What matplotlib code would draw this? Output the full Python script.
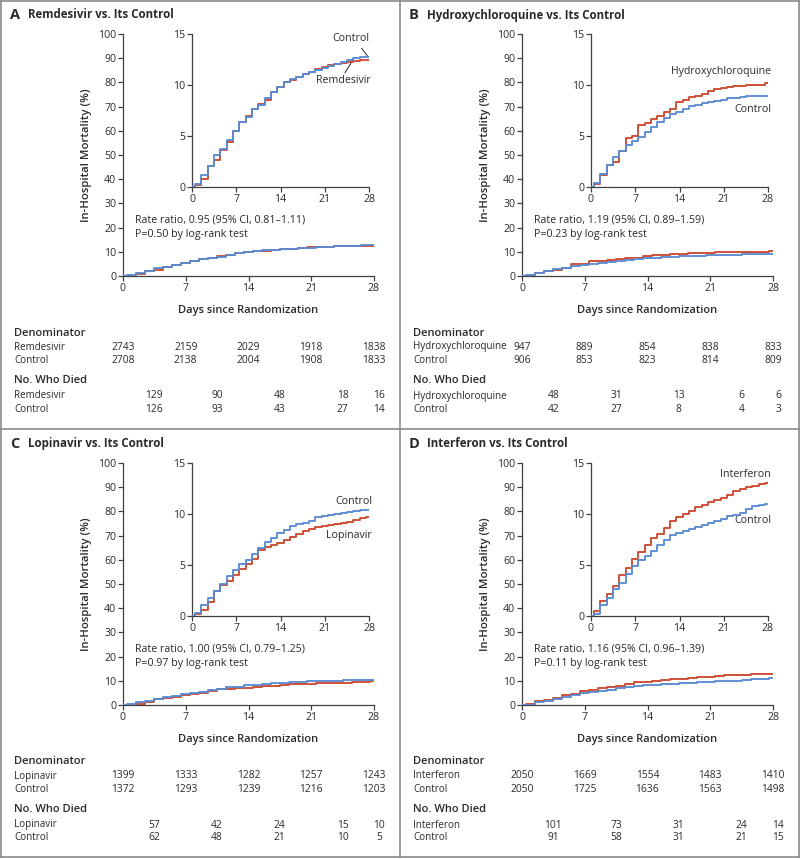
import matplotlib
matplotlib.use('Agg')
import matplotlib.pyplot as plt
import matplotlib.transforms as mtransforms
from matplotlib.lines import Line2D

plt.rcParams['font.family'] = ['Open Sans', 'DejaVu Sans']

RED = '#cc4a30'
BLUE = '#5a8bd2'
AXIS = '#404040'
TEXT = '#2a2a2a'

# daily step values (percent), one per day, step at day k + 0.5
remdesivir_pct = [0.2, 0.8, 2.1, 2.6, 3.6, 4.4, 5.5, 6.4, 7.0, 7.6, 8.1, 8.5, 9.3, 9.8,
                  10.3, 10.5, 10.8, 11.1, 11.3, 11.6, 11.8, 12.0, 12.1, 12.2, 12.3, 12.4, 12.5, 12.5]
remdesivir_ctrl_pct = [0.3, 1.2, 2.1, 3.1, 3.7, 4.6, 5.5, 6.4, 6.9, 7.6, 8.0, 8.7, 9.3, 9.8,
                       10.3, 10.6, 10.8, 11.1, 11.3, 11.5, 11.7, 11.9, 12.1, 12.3, 12.5, 12.6, 12.7, 12.75]

hcq_pct = [0.3, 1.2, 2.2, 2.5, 3.5, 4.8, 5.0, 6.1, 6.3, 6.7, 7.0, 7.4, 7.6, 8.3,
           8.5, 8.8, 8.9, 9.1, 9.4, 9.6, 9.7, 9.8, 9.9, 9.9, 10.0, 10.0, 10.0, 10.2]
hcq_ctrl_pct = [0.35, 1.3, 2.2, 2.9, 3.5, 4.1, 4.5, 4.95, 5.4, 5.9, 6.4, 6.8, 7.2, 7.4,
                7.6, 7.9, 8.0, 8.2, 8.3, 8.4, 8.5, 8.7, 8.75, 8.85, 8.9, 8.9, 8.9, 8.9]

lopinavir_pct = [0.2, 0.6, 1.4, 2.5, 3.0, 3.4, 4.0, 4.6, 5.1, 5.6, 6.5, 6.8, 7.0, 7.2,
                 7.5, 7.7, 8.0, 8.3, 8.5, 8.7, 8.8, 8.9, 9.0, 9.1, 9.2, 9.4, 9.6, 9.75]
lopinavir_ctrl_pct = [0.3, 1.1, 1.8, 2.5, 3.1, 3.9, 4.5, 5.1, 5.5, 6.1, 6.7, 7.3, 7.6, 8.1,
                      8.4, 8.8, 9.0, 9.1, 9.3, 9.7, 9.8, 9.9, 10.0, 10.1, 10.2, 10.3, 10.35, 10.4]

interferon_pct = [0.5, 1.5, 2.2, 2.9, 4.0, 4.7, 5.6, 6.3, 7.0, 7.6, 8.0, 8.6, 9.3, 9.7,
                  10.0, 10.3, 10.7, 10.9, 11.2, 11.4, 11.6, 11.9, 12.3, 12.5, 12.6, 12.7, 12.9, 13.0]
interferon_ctrl_pct = [0.2, 1.1, 1.8, 2.6, 3.2, 4.1, 4.9, 5.5, 5.9, 6.4, 7.0, 7.5, 7.9, 8.1,
                       8.3, 8.5, 8.7, 8.9, 9.1, 9.3, 9.5, 9.8, 9.9, 10.1, 10.5, 10.8, 10.9, 11.0]

day_ticks = [0, 7, 14, 21, 28]
died_days = [3.5, 10.5, 17.5, 24.5, 28.6]

titles = ['Remdesivir vs. Its Control', 'Hydroxychloroquine vs. Its Control',
          'Lopinavir vs. Its Control', 'Interferon vs. Its Control']
drugs = ['Remdesivir', 'Hydroxychloroquine', 'Lopinavir', 'Interferon']
letters = ['A', 'B', 'C', 'D']
rate_texts = ['Rate ratio, 0.95 (95% CI, 0.81\u20131.11)', 'Rate ratio, 1.19 (95% CI, 0.89\u20131.59)',
              'Rate ratio, 1.00 (95% CI, 0.79\u20131.25)', 'Rate ratio, 1.16 (95% CI, 0.96\u20131.39)']
p_texts = ['P=0.50 by log-rank test', 'P=0.23 by log-rank test',
           'P=0.97 by log-rank test', 'P=0.11 by log-rank test']

denom_drug = [[2743, 2159, 2029, 1918, 1838], [947, 889, 854, 838, 833],
              [1399, 1333, 1282, 1257, 1243], [2050, 1669, 1554, 1483, 1410]]
denom_ctrl = [[2708, 2138, 2004, 1908, 1833], [906, 853, 823, 814, 809],
              [1372, 1293, 1239, 1216, 1203], [2050, 1725, 1636, 1563, 1498]]
died_drug = [[129, 90, 48, 18, 16], [48, 31, 13, 6, 6],
             [57, 42, 24, 15, 10], [101, 73, 31, 24, 14]]
died_ctrl = [[126, 93, 43, 27, 14], [42, 27, 8, 4, 3],
             [62, 48, 21, 10, 5], [91, 58, 31, 21, 15]]

curves_drug = [remdesivir_pct, hcq_pct, lopinavir_pct, interferon_pct]
curves_ctrl = [remdesivir_ctrl_pct, hcq_ctrl_pct, lopinavir_ctrl_pct, interferon_ctrl_pct]

W, H = 800, 859
fig = plt.figure(figsize=(W / 100, H / 100), dpi=100)

TICK_FS = 7.6
NOTE_FS = 7.7
TABLE_FS = 7.4
ROW_FS = 7.15


def px_axes(left, top, right, bottom):
    return fig.add_axes([left / W, 1 - bottom / H, (right - left) / W, (bottom - top) / H])


def style_axes(ax):
    for s in ['top', 'right']:
        ax.spines[s].set_visible(False)
    for s in ['left', 'bottom']:
        ax.spines[s].set_color(AXIS)
        ax.spines[s].set_linewidth(0.9)
    ax.tick_params(direction='out', length=3.5, width=0.9, color=AXIS,
                   labelsize=TICK_FS, labelcolor=TEXT, pad=1.5)
    ax.patch.set_alpha(0)


def step_xy(vals):
    xs = [0] + [k + 0.5 for k in range(len(vals))] + [28]
    ys = [0] + list(vals) + [vals[-1]]
    return xs, ys


def draw_curves(ax, i):
    x, y = step_xy(curves_drug[i])
    ax.step(x, y, where='post', color=RED, lw=1.35, zorder=3)
    x, y = step_xy(curves_ctrl[i])
    ax.step(x, y, where='post', color=BLUE, lw=1.35, zorder=4)


for i in range(4):
    dx = 399 * (i % 2)
    dy = 429 * (i // 2)

    # main plot 0-100
    ax = px_axes(123 + dx, 34 + dy, 374 + dx, 276 + dy)
    style_axes(ax)
    draw_curves(ax, i)
    ax.set_xlim(0, 28)
    ax.set_ylim(0, 100)
    ax.set_xticks(day_ticks)
    ax.set_yticks(range(0, 101, 10))
    ax.set_ylabel('In-Hospital Mortality (%)', fontsize=8.2, fontweight='semibold',
                  color=TEXT, labelpad=4)
    ax.set_xlabel('Days since Randomization', fontsize=8, fontweight='semibold',
                  color=TEXT, labelpad=8)
    ax.text(1.3, 23.0, rate_texts[i], fontsize=NOTE_FS, color=TEXT, va='center')
    ax.text(1.3, 17.3, p_texts[i], fontsize=NOTE_FS, color=TEXT, va='center')

    # inset 0-15
    ins = px_axes(192 + dx, 34 + dy, 369 + dx, 187 + dy)
    style_axes(ins)
    draw_curves(ins, i)
    ins.set_xlim(0, 28)
    ins.set_ylim(0, 15)
    ins.set_xticks(day_ticks)
    ins.set_yticks([0, 5, 10, 15])

    if i == 0:
        ins.text(25.2, 14.6, 'Control', fontsize=7.7, color=TEXT, ha='center', va='center')
        ins.text(28.3, 10.4, 'Remdesivir', fontsize=7.7, color=TEXT, ha='right', va='center')
        ins.plot([26.85, 27.8], [13.6, 12.8], color=TEXT, lw=0.7, clip_on=False)
        ins.plot([24.2, 25.5], [11.2, 12.5], color=TEXT, lw=0.7, clip_on=False)
    elif i == 1:
        ins.text(28.5, 11.3, 'Hydroxychloroquine', fontsize=7.6, color=TEXT, ha='right', va='center')
        ins.text(28.5, 7.6, 'Control', fontsize=7.7, color=TEXT, ha='right', va='center')
    elif i == 2:
        ins.text(28.5, 11.2, 'Control', fontsize=7.7, color=TEXT, ha='right', va='center')
        ins.text(28.5, 7.9, 'Lopinavir', fontsize=7.7, color=TEXT, ha='right', va='center')
    else:
        ins.text(28.5, 13.85, 'Interferon', fontsize=7.7, color=TEXT, ha='right', va='center')
        ins.text(28.5, 9.4, 'Control', fontsize=7.7, color=TEXT, ha='right', va='center')

    # panel title
    fig.text((10 + dx) / W, 1 - (15 + dy) / H, letters[i], fontsize=10.5, fontweight='bold',
             color=TEXT, va='center')
    fig.text((28 + dx) / W, 1 - (15 + dy) / H, titles[i], fontsize=8.3, fontweight='bold',
             color=TEXT, va='center')

    # numbers table
    trans = mtransforms.blended_transform_factory(ax.transData, fig.transFigure)
    lx = (14 + dx) / W

    def row_y(py):
        return 1 - (py + dy) / H

    fig.text(lx, row_y(333), 'Denominator', fontsize=8, fontweight='semibold', color=TEXT, va='center')
    fig.text(lx, row_y(347), drugs[i], fontsize=ROW_FS, color=TEXT, va='center')
    fig.text(lx, row_y(360), 'Control', fontsize=ROW_FS, color=TEXT, va='center')
    fig.text(lx, row_y(381), 'No. Who Died', fontsize=8, fontweight='semibold', color=TEXT, va='center')
    fig.text(lx, row_y(396), drugs[i], fontsize=ROW_FS, color=TEXT, va='center')
    fig.text(lx, row_y(409), 'Control', fontsize=ROW_FS, color=TEXT, va='center')
    for d, a, b in zip(day_ticks, denom_drug[i], denom_ctrl[i]):
        ax.text(d, row_y(347), str(a), transform=trans, fontsize=TABLE_FS, color=TEXT, ha='center', va='center')
        ax.text(d, row_y(360), str(b), transform=trans, fontsize=TABLE_FS, color=TEXT, ha='center', va='center')
    for d, a, b in zip(died_days, died_drug[i], died_ctrl[i]):
        ax.text(d, row_y(396), str(a), transform=trans, fontsize=TABLE_FS, color=TEXT, ha='center', va='center')
        ax.text(d, row_y(409), str(b), transform=trans, fontsize=TABLE_FS, color=TEXT, ha='center', va='center')

# panel frames
frame = '#8a8a8a'
for (x0, y0, x1, y1) in [(1, 1, 799, 1), (1, 857, 799, 857), (1, 1, 1, 857), (799, 1, 799, 857),
                         (400, 1, 400, 857), (1, 429, 799, 429)]:
    fig.add_artist(Line2D([x0 / W, x1 / W], [1 - y0 / H, 1 - y1 / H], color=frame, lw=1.2))

fig.savefig('out.png', dpi=100)
